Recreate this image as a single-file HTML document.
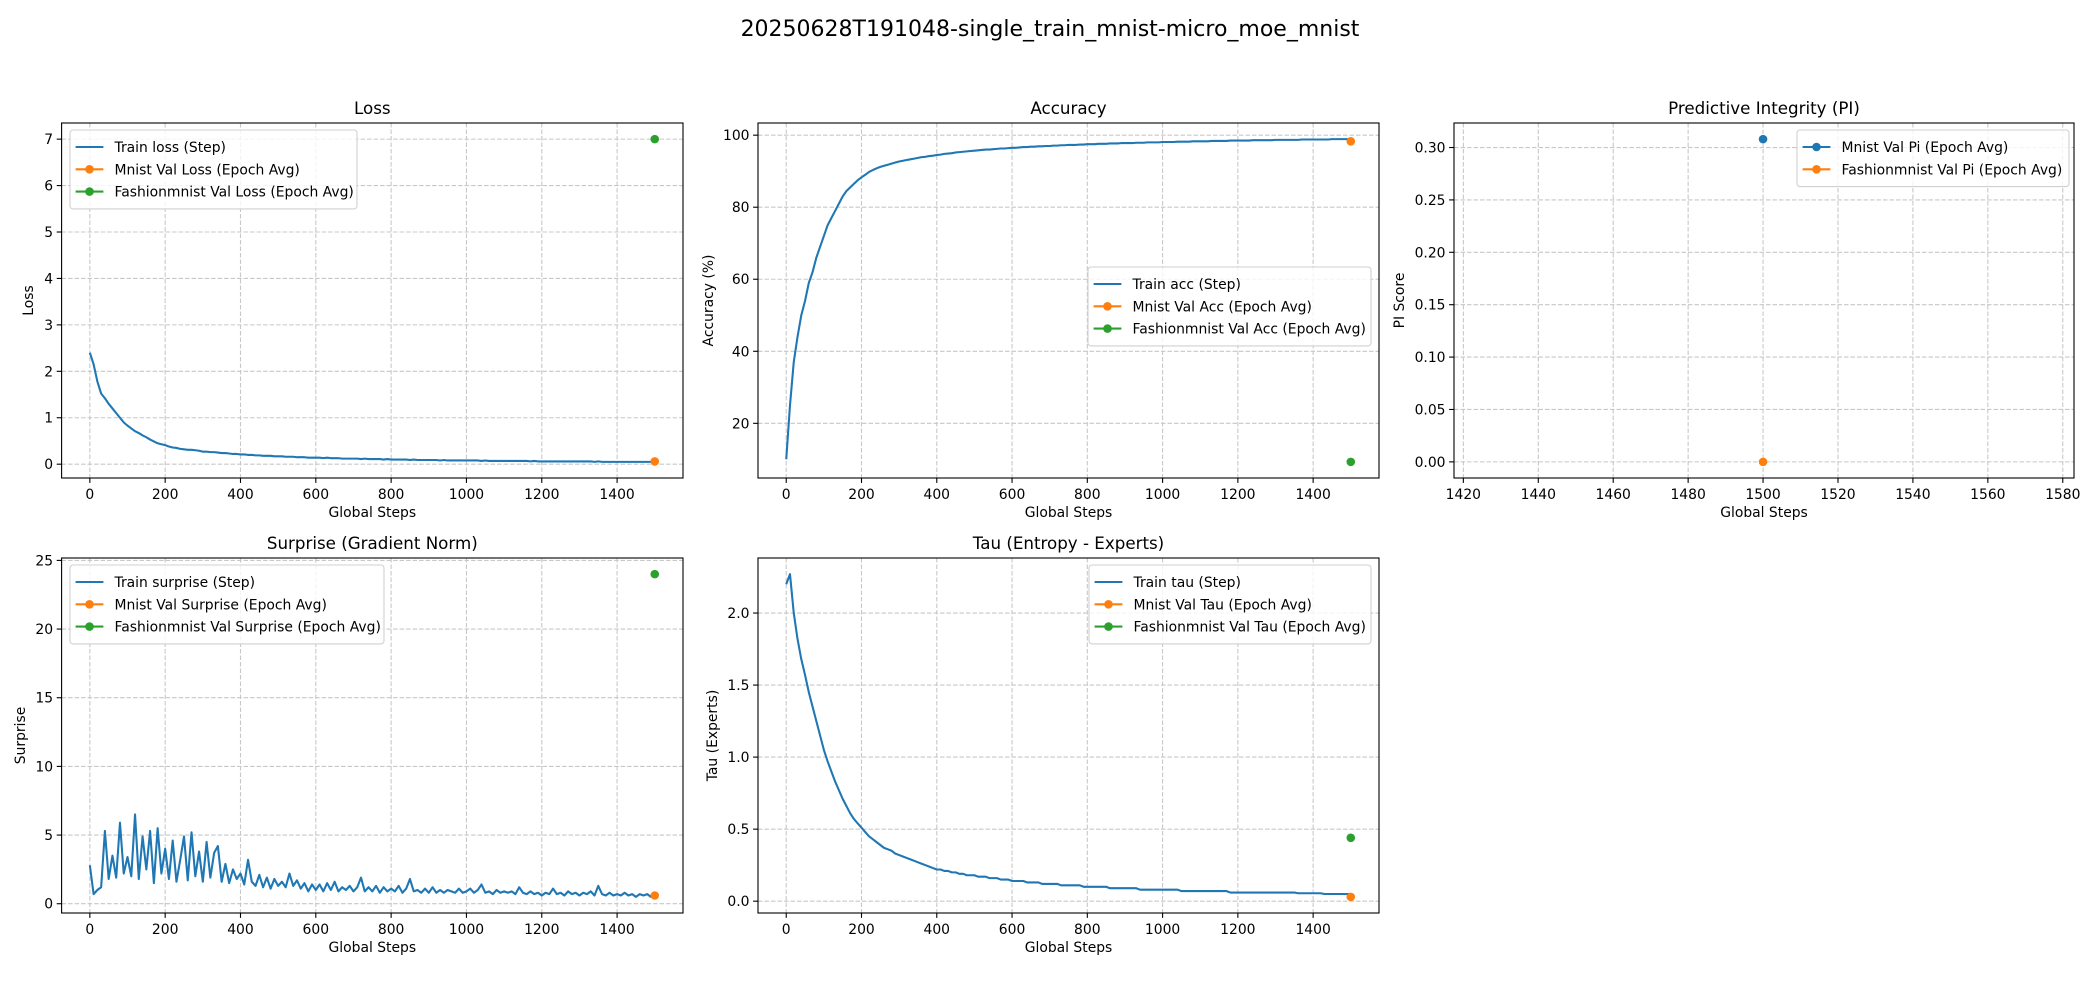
<!DOCTYPE html>
<html><head><meta charset="utf-8"><style>
html,body{margin:0;padding:0;background:#fff;}
svg{display:block;font-family:"DejaVu Sans","Liberation Sans",sans-serif;}
</style></head><body>
<svg id="fig" width="2100" height="1000" viewBox="0 0 2100 1000" xmlns="http://www.w3.org/2000/svg">
<rect width="2100" height="1000" fill="#fff"/>
<text x="1050" y="36" text-anchor="middle" font-size="22" fill="#000">20250628T191048-single_train_mnist-micro_moe_mnist</text>
</svg>
<script>
const steps = [];
for (let i = 0; i <= 150; i++) steps.push(i * 10);

const lossTrain = [2.40,2.15,1.78,1.52,1.42,1.30,1.20,1.10,1.00,0.90,0.83,
0.77,0.71,0.67,0.62,0.58,0.53,0.49,0.45,0.43,0.41,
0.38,0.36,0.35,0.33,0.32,0.31,0.31,0.30,0.29,0.27,
0.27,0.26,0.26,0.25,0.24,0.24,0.23,0.22,0.22,0.21,
0.21,0.20,0.20,0.19,0.19,0.18,0.18,0.18,0.17,0.17,
0.17,0.16,0.16,0.16,0.15,0.15,0.15,0.14,0.14,0.14,
0.14,0.13,0.14,0.13,0.13,0.13,0.12,0.12,0.12,0.12,
0.12,0.11,0.12,0.11,0.11,0.11,0.11,0.10,0.11,0.10,
0.10,0.10,0.10,0.10,0.09,0.10,0.09,0.09,0.09,0.09,
0.09,0.09,0.08,0.09,0.08,0.08,0.08,0.08,0.08,0.08,
0.08,0.08,0.08,0.07,0.08,0.07,0.07,0.07,0.07,0.07,
0.07,0.07,0.07,0.07,0.07,0.07,0.06,0.07,0.06,0.06,
0.06,0.06,0.06,0.06,0.06,0.06,0.06,0.06,0.06,0.06,
0.06,0.06,0.06,0.05,0.06,0.05,0.05,0.05,0.05,0.05,
0.05,0.05,0.05,0.05,0.05,0.05,0.05,0.05,0.05,0.05];
const lossMnist = [0.06];
const lossFashion = [7.0];

const accTrain = [10,25,37,44,50,54,59,62,66,69,72,
75,77,79,81,83,84.5,85.5,86.5,87.5,88.3,
89,89.8,90.3,90.8,91.2,91.5,91.8,92.1,92.4,92.7,
92.9,93.1,93.3,93.5,93.7,93.9,94.0,94.2,94.3,94.5,
94.6,94.8,94.9,95.0,95.2,95.3,95.4,95.5,95.6,95.7,
95.8,95.9,96.0,96.0,96.1,96.2,96.3,96.3,96.4,96.5,
96.5,96.6,96.7,96.7,96.8,96.8,96.9,96.9,97.0,97.0,
97.1,97.1,97.2,97.2,97.3,97.3,97.3,97.4,97.4,97.5,
97.5,97.5,97.6,97.6,97.6,97.7,97.7,97.7,97.8,97.8,
97.8,97.8,97.9,97.9,97.9,98.0,98.0,98.0,98.0,98.1,
98.1,98.1,98.1,98.2,98.2,98.2,98.2,98.3,98.3,98.3,
98.3,98.3,98.4,98.4,98.4,98.4,98.4,98.5,98.5,98.5,
98.5,98.5,98.5,98.6,98.6,98.6,98.6,98.6,98.6,98.7,
98.7,98.7,98.7,98.7,98.7,98.7,98.8,98.8,98.8,98.8,
98.8,98.8,98.8,98.8,98.9,98.9,98.9,98.9,98.9,98.9];
const accMnist = [98.3];
const accFashion = [9.3];

const piMnist = [0.308];
const piFashion = [0.0];

const surpTrain = [2.8,0.7,1.0,1.2,5.3,1.8,3.5,1.9,5.9,2.2,3.4,
2.0,6.5,1.8,4.9,2.5,5.3,1.5,5.5,2.2,4.0,
1.8,4.6,1.6,3.2,4.9,1.7,5.2,2.0,3.8,1.6,
4.5,1.9,3.7,4.2,1.6,2.9,1.5,2.5,1.8,2.2,
1.4,3.2,1.6,1.3,2.1,1.2,1.9,1.1,1.8,1.3,
1.6,1.2,2.2,1.3,1.7,1.1,1.5,0.9,1.4,1.0,
1.4,0.9,1.5,1.0,1.6,0.9,1.2,1.0,1.3,0.9,
1.2,1.9,0.9,1.2,0.9,1.3,0.8,1.2,0.9,1.1,
0.9,1.3,0.8,1.1,1.8,0.9,1.0,0.8,1.1,0.8,
1.2,0.8,1.0,0.8,1.0,0.9,0.8,1.1,0.8,0.9,
1.1,0.8,1.0,1.4,0.8,0.9,0.7,1.0,0.8,0.9,
0.8,0.9,0.7,1.2,0.8,0.7,0.9,0.7,0.8,0.6,
0.8,0.7,1.1,0.7,0.8,0.6,0.9,0.7,0.8,0.6,
0.8,0.7,0.9,0.6,1.3,0.7,0.6,0.8,0.6,0.7,
0.6,0.8,0.6,0.7,0.5,0.7,0.6,0.7,0.5,0.6];
const surpMnist = [0.6];
const surpFashion = [24.0];

const tauTrain = [2.20,2.27,2.00,1.82,1.68,1.57,1.45,1.35,1.25,1.15,1.05,
0.97,0.90,0.83,0.77,0.71,0.66,0.61,0.57,0.54,0.51,
0.48,0.45,0.43,0.41,0.39,0.37,0.36,0.35,0.33,0.32,
0.31,0.30,0.29,0.28,0.27,0.26,0.25,0.24,0.23,0.22,
0.22,0.21,0.21,0.20,0.20,0.19,0.19,0.18,0.18,0.18,
0.17,0.17,0.17,0.16,0.16,0.16,0.15,0.15,0.15,0.14,
0.14,0.14,0.14,0.13,0.13,0.13,0.13,0.12,0.12,0.12,
0.12,0.12,0.11,0.11,0.11,0.11,0.11,0.11,0.10,0.10,
0.10,0.10,0.10,0.10,0.10,0.09,0.09,0.09,0.09,0.09,
0.09,0.09,0.09,0.08,0.08,0.08,0.08,0.08,0.08,0.08,
0.08,0.08,0.08,0.08,0.07,0.07,0.07,0.07,0.07,0.07,
0.07,0.07,0.07,0.07,0.07,0.07,0.07,0.06,0.06,0.06,
0.06,0.06,0.06,0.06,0.06,0.06,0.06,0.06,0.06,0.06,
0.06,0.06,0.06,0.06,0.06,0.055,0.055,0.055,0.055,0.055,
0.055,0.055,0.05,0.05,0.05,0.05,0.05,0.05,0.05,0.05];
const tauMnist = [0.03];
const tauFashion = [0.44];

const valStep = [1500];
const stepTicks = [0,200,400,600,800,1000,1200,1400];
const piStepTicks = [1420,1440,1460,1480,1500,1520,1540,1560,1580];
const lossTicks = [0,1,2,3,4,5,6,7];
const accTicks = [20,40,60,80,100];
const piTicks = [0,0.05,0.10,0.15,0.20,0.25,0.30];
const surpTicks = [0,5,10,15,20,25];
const tauTicks = [0,0.5,1.0,1.5,2.0];

const NS = 'http://www.w3.org/2000/svg';
const fig = document.getElementById('fig');
const BLUE = '#1f77b4', ORANGE = '#ff7f0e', GREEN = '#2ca02c';

function mk(tag, attrs, parent) {
  const e = document.createElementNS(NS, tag);
  for (const k in attrs) e.setAttribute(k, attrs[k]);
  (parent || fig).appendChild(e);
  return e;
}
function range(arrs) {
  let lo = Infinity, hi = -Infinity;
  arrs.forEach(a => a.forEach(v => { if (v < lo) lo = v; if (v > hi) hi = v; }));
  return [lo, hi];
}

function panel(cfg) {
  const g = mk('g', {});
  
  
  const L = cfg.box[0], R = cfg.box[1], T = cfg.box[2], B = cfg.box[3];
  const [ylo, yhi] = range(cfg.yData);
  const yr = (yhi - ylo) || 1;
  const y0 = ylo - 0.05 * yr, y1 = yhi + 0.05 * yr;
  const [x0, x1] = cfg.xlim;
  const sx = v => L + (v - x0) / (x1 - x0) * (R - L);
  const sy = v => B - (v - y0) / (y1 - y0) * (B - T);
  cfg.xticks.forEach(t => {
    const x = sx(t);
    const gl = mk('line', {x1: x, x2: x, y1: T, y2: B, stroke: '#c8c8c8', 'stroke-width': 1.1, 'stroke-dasharray': '4.5,2'}, g);
    
    
    mk('line', {x1: x, x2: x, y1: B, y2: B + 4.9, stroke: '#000', 'stroke-width': 1.1}, g);
    const tl = mk('text', {x: x, y: B + 21, 'text-anchor': 'middle', 'font-size': 13.9, fill: '#000'}, g);
    tl.textContent = String(t);
    
    
  });
  cfg.yticks.forEach(t => {
    const y = sy(t);
    const gl = mk('line', {x1: L, x2: R, y1: y, y2: y, stroke: '#c8c8c8', 'stroke-width': 1.1, 'stroke-dasharray': '4.5,2'}, g);
    
    
    mk('line', {x1: L - 4.9, x2: L, y1: y, y2: y, stroke: '#000', 'stroke-width': 1.1}, g);
    const tl = mk('text', {x: L - 8.5, y: y + 5, 'text-anchor': 'end', 'font-size': 13.9, fill: '#000'}, g);
    tl.textContent = cfg.yfmt ? cfg.yfmt(t) : String(t);
    
    
  });
  const cid = 'clip-' + cfg.name;
  const cp = mk('clipPath', {id: cid}, g);
  mk('rect', {x: L, y: T, width: R - L, height: B - T}, cp);
  const plot = mk('g', {'clip-path': 'url(#' + cid + ')'}, g);
  if (cfg.train) {
    let d = '';
    cfg.train.forEach((v, i) => { d += (i ? 'L' : 'M') + sx(steps[i]).toFixed(2) + ',' + sy(v).toFixed(2); });
    const p = mk('path', {d: d, fill: 'none', stroke: BLUE, 'stroke-width': 2.08, 'stroke-linejoin': 'round'}, plot);
    
    
  }
  cfg.points.forEach(pt => {
    pt.vals.forEach((v, i) => {
      const c = mk('circle', {cx: sx(valStep[i]), cy: sy(v), r: 4.3, fill: pt.color}, plot);
      
      
    });
  });
  mk('rect', {x: L, y: T, width: R - L, height: B - T, fill: 'none', stroke: '#000', 'stroke-width': 1.1}, g);
  const ti = mk('text', {x: (L + R) / 2, y: T - 9, 'text-anchor': 'middle', 'font-size': 16.7, fill: '#000'}, g);
  ti.textContent = cfg.title;
  
  
  const xl = mk('text', {x: (L + R) / 2, y: B + 39, 'text-anchor': 'middle', 'font-size': 13.9, fill: '#000'}, g);
  xl.textContent = 'Global Steps';
  
  
  const ym = (T + B) / 2;
  const yl = mk('text', {x: cfg.ylabelX, y: ym, 'text-anchor': 'middle', 'font-size': 13.9, fill: '#000', transform: 'rotate(-90 ' + cfg.ylabelX + ' ' + ym + ')'}, g);
  yl.textContent = cfg.ylabel;
  
  
  const lg = mk('g', {}, g);
  
  
  const lx = cfg.legend[0], ly = cfg.legend[1], lw = cfg.legend[2];
  const n = cfg.legendItems.length;
  mk('rect', {x: lx, y: ly, width: lw, height: 12 + 22.3 * n, rx: 3, fill: '#fff', 'fill-opacity': 0.8, stroke: '#d0d0d0', 'stroke-width': 1.1}, lg);
  cfg.legendItems.forEach((it, i) => {
    const cy = ly + 17 + 22.3 * i;
    const e = mk('g', {}, lg);
    
    
    mk('line', {x1: lx + 5.6, x2: lx + 33.4, y1: cy, y2: cy, stroke: it.color, 'stroke-width': 2.08}, e);
    if (it.marker) mk('circle', {cx: lx + 19.5, cy: cy, r: 4.3, fill: it.color}, e);
    const t = mk('text', {x: lx + 44.5, y: cy + 5, 'font-size': 13.9, fill: '#000'}, e);
    t.textContent = it.label;
  });
}

const rowTop = [123, 478], rowBot = [558, 913];
const c1 = [61.6, 683], c2 = [758, 1379], c3 = [1454, 2074];

panel({name: 'loss-panel', box: [c1[0], c1[1], rowTop[0], rowTop[1]], xlim: [-75, 1575], xticks: stepTicks, yticks: lossTicks,
  yData: [lossTrain, lossMnist, lossFashion], train: lossTrain, title: 'Loss', ylabel: 'Loss', ylabelX: 33,
  points: [{vals: lossMnist, color: ORANGE, name: 'mnist-val-loss-point'}, {vals: lossFashion, color: GREEN, name: 'fashion-val-loss-point'}],
  legend: [70, 130, 287],
  legendItems: [{label: 'Train loss (Step)', color: BLUE}, {label: 'Mnist Val Loss (Epoch Avg)', color: ORANGE, marker: 1}, {label: 'Fashionmnist Val Loss (Epoch Avg)', color: GREEN, marker: 1}]});

panel({name: 'accuracy-panel', box: [c2[0], c2[1], rowTop[0], rowTop[1]], xlim: [-75, 1575], xticks: stepTicks, yticks: accTicks,
  yData: [accTrain, accMnist, accFashion], train: accTrain, title: 'Accuracy', ylabel: 'Accuracy (%)', ylabelX: 713,
  points: [{vals: accMnist, color: ORANGE, name: 'mnist-val-acc-point'}, {vals: accFashion, color: GREEN, name: 'fashion-val-acc-point'}],
  legend: [1088, 267, 283],
  legendItems: [{label: 'Train acc (Step)', color: BLUE}, {label: 'Mnist Val Acc (Epoch Avg)', color: ORANGE, marker: 1}, {label: 'Fashionmnist Val Acc (Epoch Avg)', color: GREEN, marker: 1}]});

panel({name: 'pi-panel', box: [c3[0], c3[1], rowTop[0], rowTop[1]], xlim: [1417.5, 1583], xticks: piStepTicks, yticks: piTicks,
  yData: [piMnist, piFashion], train: null, title: 'Predictive Integrity (PI)', ylabel: 'PI Score', ylabelX: 1404,
  yfmt: v => v.toFixed(2),
  points: [{vals: piMnist, color: BLUE, name: 'mnist-val-pi-point'}, {vals: piFashion, color: ORANGE, name: 'fashion-val-pi-point'}],
  legend: [1797, 130, 272],
  legendItems: [{label: 'Mnist Val Pi (Epoch Avg)', color: BLUE, marker: 1}, {label: 'Fashionmnist Val Pi (Epoch Avg)', color: ORANGE, marker: 1}]});

panel({name: 'surprise-panel', box: [c1[0], c1[1], rowBot[0], rowBot[1]], xlim: [-75, 1575], xticks: stepTicks, yticks: surpTicks,
  yData: [surpTrain, surpMnist, surpFashion], train: surpTrain, title: 'Surprise (Gradient Norm)', ylabel: 'Surprise', ylabelX: 25,
  points: [{vals: surpMnist, color: ORANGE, name: 'mnist-val-surprise-point'}, {vals: surpFashion, color: GREEN, name: 'fashion-val-surprise-point'}],
  legend: [70, 565, 314],
  legendItems: [{label: 'Train surprise (Step)', color: BLUE}, {label: 'Mnist Val Surprise (Epoch Avg)', color: ORANGE, marker: 1}, {label: 'Fashionmnist Val Surprise (Epoch Avg)', color: GREEN, marker: 1}]});

panel({name: 'tau-panel', box: [c2[0], c2[1], rowBot[0], rowBot[1]], xlim: [-75, 1575], xticks: stepTicks, yticks: tauTicks,
  yData: [tauTrain, tauMnist, tauFashion], train: tauTrain, title: 'Tau (Entropy - Experts)', ylabel: 'Tau (Experts)', ylabelX: 717,
  yfmt: v => v.toFixed(1),
  points: [{vals: tauMnist, color: ORANGE, name: 'mnist-val-tau-point'}, {vals: tauFashion, color: GREEN, name: 'fashion-val-tau-point'}],
  legend: [1089, 565, 282],
  legendItems: [{label: 'Train tau (Step)', color: BLUE}, {label: 'Mnist Val Tau (Epoch Avg)', color: ORANGE, marker: 1}, {label: 'Fashionmnist Val Tau (Epoch Avg)', color: GREEN, marker: 1}]});
</script>
</body></html>
